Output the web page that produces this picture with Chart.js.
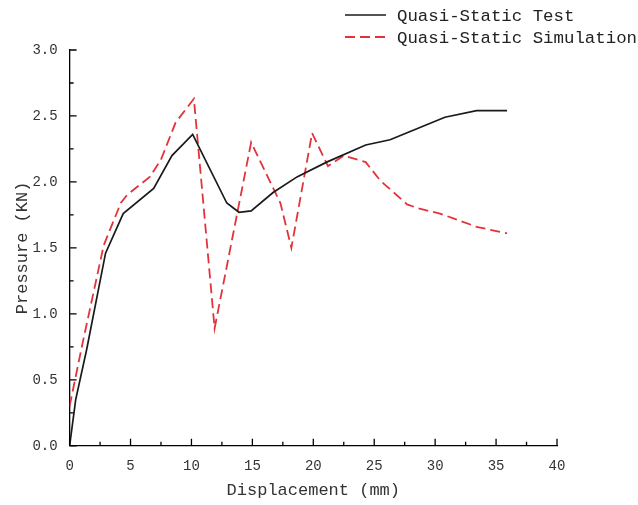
<!DOCTYPE html>
<html>
<head>
<meta charset="utf-8">
<script src="https://cdn.jsdelivr.net/npm/chart.js@4"></script>
<style>
  html, body { margin: 0; padding: 0; background: #fff; }
  #wrap { width: 638px; height: 505px; }
</style>
</head>
<body>
<div id="wrap"><canvas id="chart" width="638" height="505"></canvas></div>
<script>
const FONT = "'Liberation Mono', 'DejaVu Sans Mono', monospace";

// Quasi-static test (black solid)
const testX = [0, 0.5, 1.4, 2.95, 4.4, 6.9, 8.4, 10.1, 12.9, 13.9, 14.9, 16.7, 18.7, 21.1, 24.3, 26.3, 27.9, 30.8, 33.4, 35.9];
const testY = [0, 0.35, 0.73, 1.46, 1.76, 1.95, 2.2, 2.36, 1.84, 1.77, 1.78, 1.92, 2.04, 2.15, 2.28, 2.32, 2.38, 2.49, 2.54, 2.54];

// Quasi-static simulation (red dashed)
const simX = [0, 1.0, 2.8, 4.2, 4.7, 6.6, 7.5, 8.7, 10.2, 11.9, 14.9, 17.3, 18.2, 19.9, 21.2, 22.5, 24.3, 25.5, 27.7, 28.6, 30.4, 33.4, 35.9];
const simY = [0.3, 0.75, 1.52, 1.84, 1.9, 2.04, 2.17, 2.45, 2.63, 0.89, 2.3, 1.84, 1.5, 2.37, 2.12, 2.2, 2.15, 2.01, 1.83, 1.8, 1.76, 1.66, 1.61];

const seriesNames = ['Quasi-Static Test', 'Quasi-Static Simulation'];
const xTicks = [0, 5, 10, 15, 20, 25, 30, 35, 40];
const yTicks = [0, 0.5, 1.0, 1.5, 2.0, 2.5, 3.0];

function toPoints(xs, ys) {
    return xs.map((x, i) => ({ x: x, y: ys[i] }));
}

// inward major + minor ticks on both axes
const inwardTicks = {
    id: 'inwardTicks',
    afterDraw(chart) {
        const ctx = chart.ctx;
        const xs = chart.scales.x, ys = chart.scales.y;
        const area = chart.chartArea;
        ctx.save();
        ctx.strokeStyle = '#000';
        ctx.lineWidth = 1.3;
        ctx.beginPath();
        xTicks.forEach((v, i) => {
            const px = xs.getPixelForValue(v);
            ctx.moveTo(px, area.bottom);
            ctx.lineTo(px, area.bottom - 7);
            if (i < xTicks.length - 1) {
                const mx = xs.getPixelForValue((v + xTicks[i + 1]) / 2);
                ctx.moveTo(mx, area.bottom);
                ctx.lineTo(mx, area.bottom - 4);
            }
        });
        yTicks.forEach((v, i) => {
            const py = ys.getPixelForValue(v);
            ctx.moveTo(area.left, py);
            ctx.lineTo(area.left + 7, py);
            if (i < yTicks.length - 1) {
                const my = ys.getPixelForValue((v + yTicks[i + 1]) / 2);
                ctx.moveTo(area.left, my);
                ctx.lineTo(area.left + 4, my);
            }
        });
        ctx.stroke();
        ctx.restore();
    }
};

// legend in the top-right corner
const cornerLegend = {
    id: 'cornerLegend',
    afterDraw(chart) {
        const ctx = chart.ctx;
        ctx.save();
        ctx.font = "17.4px " + FONT;
        ctx.textBaseline = 'middle';
        ctx.fillStyle = '#222';
        chart.data.datasets.forEach((ds, i) => {
            const y = 15 + i * 22;
            ctx.strokeStyle = ds.borderColor;
            ctx.lineWidth = ds.borderWidth;
            ctx.setLineDash(ds.borderDash || []);
            ctx.beginPath();
            ctx.moveTo(345, y);
            ctx.lineTo(386, y);
            ctx.stroke();
            ctx.setLineDash([]);
            ctx.fillText(ds.label, 397, y + 1);
        });
        ctx.restore();
    }
};

new Chart(document.getElementById('chart'), {
    type: 'scatter',
    data: {
        datasets: [
            {
                label: seriesNames[0],
                data: toPoints(testX, testY),
                showLine: true,
                borderColor: '#1a1a1a',
                borderWidth: 1.7,
                pointRadius: 0,
                tension: 0
            },
            {
                label: seriesNames[1],
                data: toPoints(simX, simY),
                showLine: true,
                borderColor: '#e2333a',
                borderWidth: 1.8,
                borderDash: [10, 5],
                pointRadius: 0,
                tension: 0
            }
        ]
    },
    options: {
        responsive: false,
        animation: false,
        layout: { padding: { left: 12, right: 81, top: 50, bottom: 4 } },
        plugins: {
            legend: { display: false },
            tooltip: { enabled: false }
        },
        scales: {
            x: {
                type: 'linear',
                min: 0,
                max: 40,
                afterBuildTicks: (s) => { s.ticks = xTicks.map(v => ({ value: v })); },
                grid: { display: false, drawTicks: false },
                border: { display: true, color: '#000', width: 1.3 },
                ticks: {
                    color: '#333',
                    font: { family: FONT, size: 14 },
                    padding: 12,
                    callback: (v) => String(v)
                },
                title: {
                    display: true,
                    text: 'Displacement (mm)',
                    color: '#333',
                    font: { family: FONT, size: 17 },
                    padding: { top: -6, bottom: 0 }
                }
            },
            y: {
                type: 'linear',
                min: 0,
                max: 3,
                afterBuildTicks: (s) => { s.ticks = yTicks.map(v => ({ value: v })); },
                grid: { display: false, drawTicks: false },
                border: { display: true, color: '#000', width: 1.3 },
                ticks: {
                    color: '#333',
                    font: { family: FONT, size: 14 },
                    padding: 12,
                    callback: (v) => Number(v).toFixed(1)
                },
                title: {
                    display: true,
                    text: 'Pressure (KN)',
                    color: '#333',
                    font: { family: FONT, size: 17 },
                    padding: { top: 0, bottom: -12 }
                }
            }
        }
    },
    plugins: [inwardTicks, cornerLegend]
});
</script>
</body>
</html>
